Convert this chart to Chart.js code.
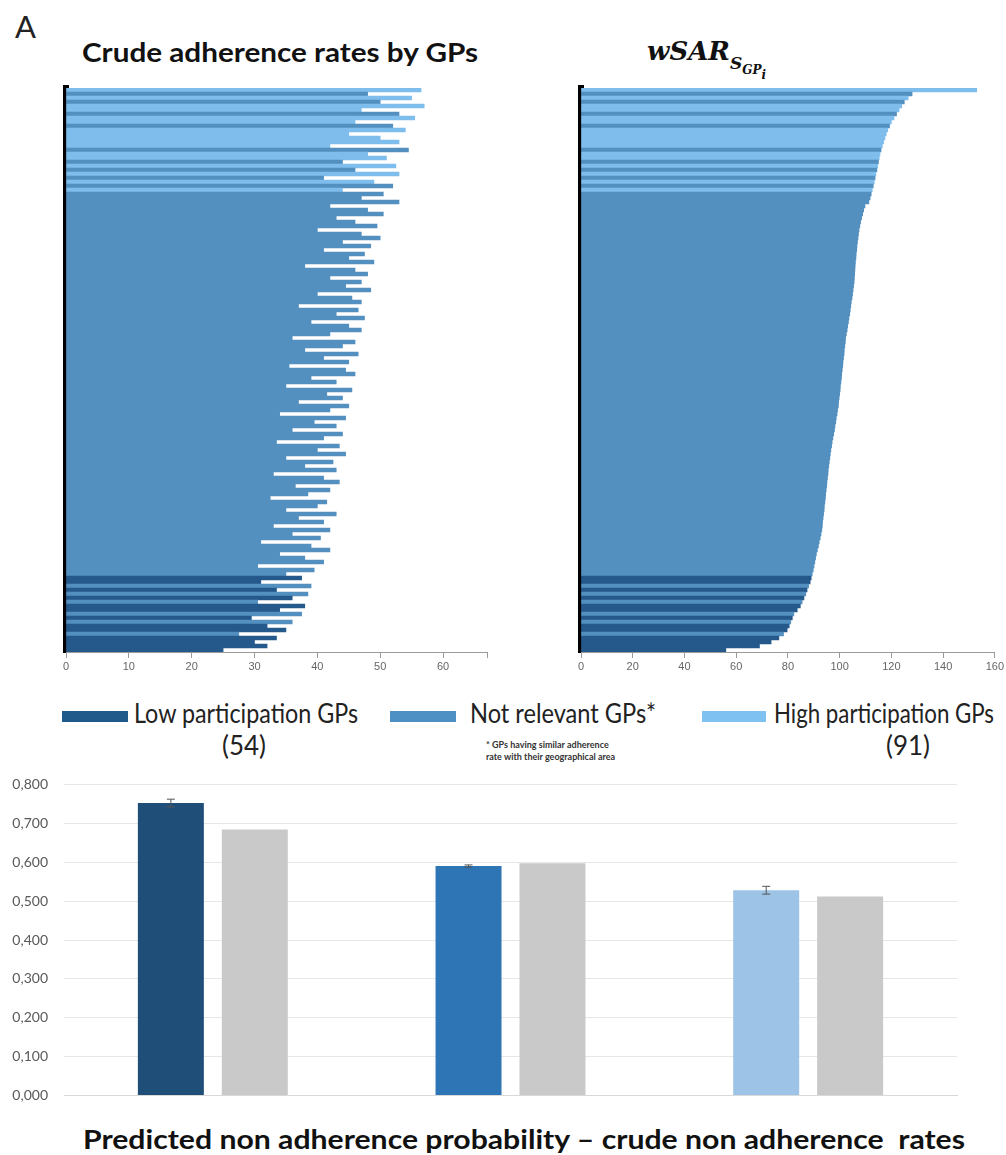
<!DOCTYPE html>
<html>
<head>
<meta charset="utf-8">
<script src="https://cdn.jsdelivr.net/npm/chart.js@4.4.1/dist/chart.umd.min.js"></script>
<style>
  body { margin: 0; width: 1006px; height: 1155px; background: #fff; position: relative; overflow: hidden; font-family: Lato, sans-serif; }
  .box { position: absolute; }
  .txt { position: absolute; white-space: nowrap; line-height: 1; color: #111; }
  .sw { position: absolute; height: 11px; }
</style>
</head>
<body>

<div class="txt" id="panel" style="left:15px; top:11px; font-size:31px; color:#222;">A</div>
<div class="txt fit" data-w="396" style="left:82px; top:39px; font-size:26px; font-weight:700;">Crude adherence rates by GPs</div>
<div class="txt" style="left:647px; top:38px; font-family:'DejaVu Serif', serif; font-style:italic; font-weight:700; font-size:26px;">wSAR<span style="font-size:17px; position:relative; top:9px;">S<span style="font-size:12px; position:relative; top:5px;">GP<span style="font-size:12px; position:relative; top:5px;">i</span></span></span></div>

<div class="box" style="left:0; top:80px; width:500px; height:610px;"><canvas id="crude"></canvas></div>
<div class="box" style="left:520px; top:80px; width:486px; height:610px;"><canvas id="wsar"></canvas></div>

<div class="sw" style="left:62px; top:711px; width:66px; background:#1f5a8a;"></div>
<div class="txt fit" data-w="224" style="left:134px; top:700px; font-size:26px; color:#222;">Low participation GPs</div>
<div class="txt fit" data-w="44" style="left:222px; top:732px; font-size:26px; color:#222;">(54)</div>
<div class="sw" style="left:390px; top:711px; width:66px; background:#4e8fc4;"></div>
<div class="txt fit" data-w="186" style="left:470px; top:700px; font-size:26px; color:#222;">Not relevant GPs*</div>
<div class="txt" style="left:486px; top:739px; font-size:9px; font-weight:700; color:#333; line-height:12px;">* GPs having similar adherence<br>rate with their geographical area</div>
<div class="sw" style="left:702px; top:711px; width:64px; background:#7fc1f0;"></div>
<div class="txt fit" data-w="220" style="left:774px; top:700px; font-size:26px; color:#222;">High participation GPs</div>
<div class="txt fit" data-w="44" style="left:886px; top:732px; font-size:26px; color:#222;">(91)</div>

<div class="box" style="left:0; top:760px; width:1006px; height:360px;"><canvas id="prob"></canvas></div>

<div class="txt fit" data-w="882" style="left:83px; top:1126px; font-size:26px; font-weight:700;">Predicted non adherence probability – crude non adherence&nbsp; rates</div>

<script>
// one row per small block of GPs, top row = highest wSAR
const rowGroup = ('HNHNHHNHHNHHHHHNHHNHNHNHNH' +
  'NNNNNNNNNNNNNNNNNNNNNNNN' + 'NNNNNNNNNNNNNNNNNNNNNNNN' +
  'NNNNNNNNNNNNNNNNNNNNNNNN' + 'NNNNNNNNNNNNNNNNNNNNNNNN' +
  'LLNLNLNLLNLNLLNLLLL').split('');

const crudeRate = [
  56.5, 48, 55, 50, 57, 47, 53, 55.5, 46, 52,
  54, 45, 50, 53, 42, 54.5, 48, 51, 44, 52.5,
  46, 53, 41, 49, 52, 44, 50.5, 47, 53, 42,
  48, 50.5, 43, 46, 49.5, 40, 47, 50, 44, 48.5,
  41, 47.5, 45, 49, 38, 46, 48, 42, 47, 44.5,
  48.5, 40, 45.5, 47, 37, 46.5, 43, 47.5, 39, 45,
  47, 42, 36, 46, 44, 38, 46.5, 41, 45, 35.5,
  44.5, 46, 39, 43, 35, 45.5, 41.5, 44, 37, 45,
  42, 34, 44.5, 39.5, 43, 36, 44, 41, 33.5, 43.5,
  40, 44.5, 35, 42.5, 38, 43, 33, 41, 43.5, 36.5,
  42, 38.5, 32.5, 41.5, 40, 35, 43, 37, 41, 33,
  42, 36, 40.5, 31, 39, 42, 34, 38, 41, 30.5,
  39.5, 35, 37.5, 31, 39, 33.5, 38.5, 36, 30.5, 38,
  34, 37.5, 29.5, 36, 32, 35, 27.5, 33.5, 30, 32, 25
];

const wsar = [
  153, 128, 126.5, 125, 124, 123, 122, 121, 120, 119.3,
  118.6, 118, 117.5, 117, 116.5, 116, 115.6, 115.3, 115, 114.7,
  114.4, 114, 113.7, 113.4, 113, 112.6, 112.2, 111.8, 111.3, 109.8,
  109.3, 108.9, 108.5, 108.1, 107.8, 107.5, 107.3, 107.1, 106.9, 106.7,
  106.6, 106.4, 106.3, 106.1, 106, 105.9, 105.8, 105.7, 105.6, 105.4,
  105.2, 105, 104.8, 104.5, 104.3, 104.1, 103.9, 103.6, 103.4, 103.1,
  102.9, 102.6, 102.3, 102.2, 102, 101.8, 101.7, 101.5, 101.3, 101.2,
  101, 100.8, 100.7, 100.5, 100.3, 100.2, 100, 99.8, 99.6, 99.5,
  99.2, 99, 98.7, 98.5, 98.2, 98, 97.7, 97.4, 97.1, 96.9,
  96.6, 96.4, 96.2, 96, 95.8, 95.6, 95.5, 95.3, 95.1, 95,
  94.8, 94.6, 94.5, 94.3, 94.1, 94, 93.8, 93.6, 93.4, 93.3,
  93.1, 92.8, 92.5, 92.1, 91.8, 91.4, 91, 90.7, 90.4, 90.1,
  89.8, 89.4, 89, 88.6, 88, 87.4, 86.9, 86.2, 85.5, 84.8,
  83.6, 82.3, 81.7, 81.1, 80.5, 79.7, 78.3, 76.5, 73.5, 69, 56
];

const crudeTicks = [0, 10, 20, 30, 40, 50, 60];
const wsarTicks = [0, 20, 40, 60, 80, 100, 120, 140, 160];

const groups = ['Low participation GPs', 'Not relevant GPs', 'High participation GPs'];
const predicted = [0.752, 0.590, 0.528];
const predLow = [0.742, 0.587, 0.518];
const predHigh = [0.762, 0.593, 0.538];
const crudeNonAdh = [0.684, 0.597, 0.512];
const probTicks = ['0,000', '0,100', '0,200', '0,300', '0,400', '0,500', '0,600', '0,700', '0,800'];

const groupColor = { L: '#25598b', N: '#5390c0', H: '#7ebdec' };
const barColor = ['#1f4e79', '#2e75b6', '#9dc3e6'];

Chart.defaults.animation = false;
Chart.defaults.font.family = "'Liberation Sans', Arial, sans-serif";

function rowChart(id, values, max, tickList, pad) {
  return new Chart(document.getElementById(id), {
    type: 'bar',
    data: {
      labels: values.map((v, i) => 'GP' + (i + 1)),
      datasets: [{
        data: values,
        backgroundColor: rowGroup.map(g => groupColor[g]),
        borderWidth: 0,
        barPercentage: 1,
        categoryPercentage: 1,
      }]
    },
    options: {
      indexAxis: 'y',
      responsive: true,
      maintainAspectRatio: false,
      layout: { padding: pad },
      plugins: { legend: { display: false }, tooltip: { enabled: false } },
      scales: {
        y: {
          z: 1,
          grid: { display: false },
          ticks: { display: false },
          border: { display: true, color: '#000', width: 6 },
          afterFit(scale) { scale.width = 0; },
        },
        x: {
          min: 0,
          max: max,
          grid: { drawOnChartArea: false, color: '#9a9a9a', tickLength: 6 },
          border: { color: '#9a9a9a', width: 1 },
          ticks: {
            stepSize: tickList[1] - tickList[0],
            color: '#666',
            font: { size: 11 },
            padding: 2,
            maxRotation: 0,
            callback(v) { return tickList.includes(v) ? String(v) : ''; }
          },
          afterFit(scale) { scale.height = 28; },
        }
      }
    }
  });
}

rowChart('crude', crudeRate, 67, crudeTicks, { left: 66, right: 13, top: 8, bottom: 10 });
rowChart('wsar', wsar, 160, wsarTicks, { left: 61, right: 9, top: 8, bottom: 10 });

const errorBars = {
  id: 'errorBars',
  afterDatasetsDraw(chart) {
    const ctx = chart.ctx;
    const y = chart.scales.y;
    const meta = chart.getDatasetMeta(0);
    ctx.save();
    ctx.strokeStyle = '#555';
    ctx.lineWidth = 1;
    meta.data.forEach((bar, i) => {
      const top = y.getPixelForValue(predHigh[i]);
      const bot = y.getPixelForValue(predLow[i]);
      ctx.beginPath();
      ctx.moveTo(bar.x, top); ctx.lineTo(bar.x, bot);
      ctx.moveTo(bar.x - 4, top); ctx.lineTo(bar.x + 4, top);
      ctx.moveTo(bar.x - 4, bot); ctx.lineTo(bar.x + 4, bot);
      ctx.stroke();
    });
    ctx.restore();
  }
};

new Chart(document.getElementById('prob'), {
  type: 'bar',
  data: {
    labels: groups,
    datasets: [
      { label: 'Predicted non adherence probability', data: predicted, backgroundColor: barColor,
        barPercentage: 0.786, categoryPercentage: 0.564 },
      { label: 'Crude non adherence rate', data: crudeNonAdh, backgroundColor: '#c9c9c9',
        barPercentage: 0.786, categoryPercentage: 0.564 }
    ]
  },
  options: {
    responsive: true,
    maintainAspectRatio: false,
    layout: { padding: { left: 0, right: 49, top: 20, bottom: 17 } },
    plugins: { legend: { display: false }, tooltip: { enabled: false } },
    scales: {
      x: {
        grid: { display: false },
        border: { color: '#d9d9d9' },
        ticks: { display: false },
        afterFit(scale) { scale.height = 0; }
      },
      y: {
        min: 0,
        max: 0.8,
        grid: { color: '#e6e6e6', drawTicks: false },
        border: { display: false },
        ticks: {
          stepSize: 0.1,
          padding: 16,
          color: '#595959',
          font: { family: 'Lato', size: 14 },
          callback(v, i) { return probTicks[i]; }
        },
        afterFit(scale) { scale.width = 64; }
      }
    }
  },
  plugins: [errorBars]
});

document.fonts.ready.then(() => {
  document.querySelectorAll('.fit').forEach(el => {
    const w = el.getBoundingClientRect().width;
    el.style.transformOrigin = 'left top';
    el.style.transform = 'scaleX(' + (+el.dataset.w / w) + ')';
  });
});
</script>
</body>
</html>
